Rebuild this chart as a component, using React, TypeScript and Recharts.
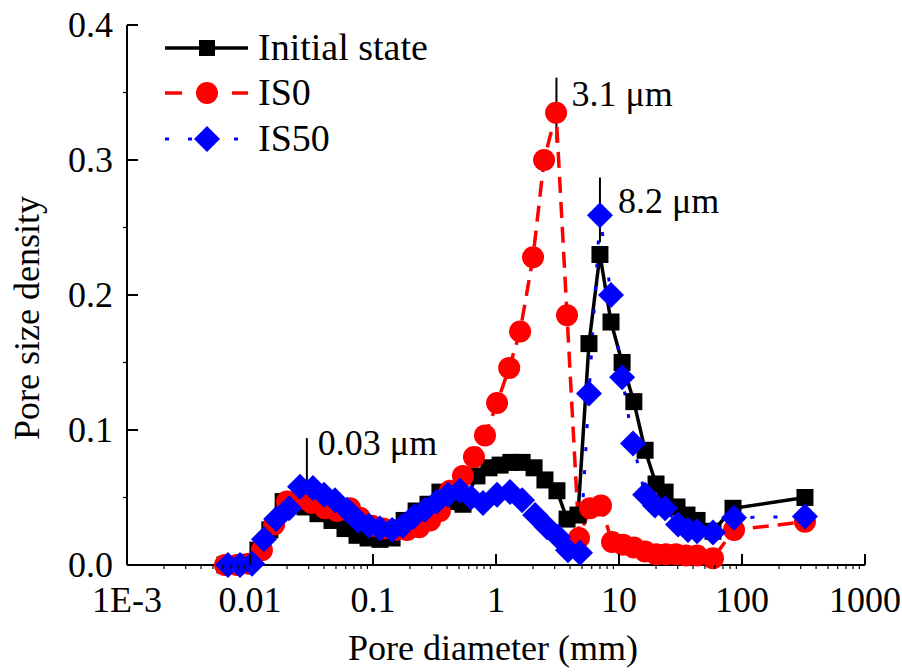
import { LineChart, Line, XAxis, YAxis, ReferenceLine } from 'recharts';

// pore diameter (x) and pore size density (y)
const initialX = [0.00626, 0.00784, 0.00981, 0.0116, 0.0145, 0.0186, 0.0228, 0.028, 0.0357, 0.0464, 0.0592, 0.0741, 0.0911, 0.114, 0.143, 0.179, 0.224, 0.28, 0.35, 0.439, 0.539, 0.70, 0.877, 1.08, 1.32, 1.63, 2.04, 2.50, 3.13, 3.78, 4.64, 5.70, 7.0, 8.61, 10.6, 13.2, 16.3, 20.0, 23.7, 29.6, 35.7, 43.1, 58.1, 84.5, 325];
const initialY = [0.0, 0.0, 0.002, 0.011, 0.026, 0.047, 0.046, 0.043, 0.038, 0.033, 0.027, 0.022, 0.020, 0.019, 0.020, 0.033, 0.040, 0.045, 0.054, 0.047, 0.045, 0.066, 0.072, 0.074, 0.076, 0.076, 0.072, 0.063, 0.055, 0.034, 0.037, 0.164, 0.230, 0.180, 0.150, 0.121, 0.085, 0.060, 0.054, 0.043, 0.037, 0.033, 0.025, 0.042, 0.050];

const is0X = [0.00626, 0.00784, 0.00981, 0.0125, 0.0157, 0.0200, 0.0255, 0.0319, 0.0407, 0.051, 0.065, 0.0784, 0.0981, 0.121, 0.151, 0.189, 0.237, 0.291, 0.350, 0.423, 0.539, 0.662, 0.814, 1.02, 1.28, 1.57, 2.00, 2.46, 3.08, 3.78, 4.73, 5.81, 7.14, 8.77, 10.8, 13.2, 16.3, 20.0, 24.1, 29.1, 35.1, 43.1, 58.1, 86.1, 325];
const is0Y = [0.0, 0.0, 0.001, 0.011, 0.030, 0.047, 0.049, 0.046, 0.042, 0.040, 0.042, 0.035, 0.029, 0.027, 0.026, 0.026, 0.028, 0.033, 0.040, 0.055, 0.066, 0.080, 0.096, 0.120, 0.146, 0.173, 0.228, 0.300, 0.335, 0.185, 0.020, 0.042, 0.044, 0.017, 0.015, 0.013, 0.010, 0.008, 0.008, 0.008, 0.007, 0.007, 0.005, 0.026, 0.032];

const is50X = [0.00662, 0.00829, 0.0104, 0.0130, 0.0163, 0.0208, 0.0255, 0.0325, 0.0400, 0.0491, 0.0615, 0.0755, 0.0928, 0.114, 0.143, 0.175, 0.215, 0.265, 0.331, 0.407, 0.510, 0.626, 0.784, 1.02, 1.30, 1.63, 2.08, 2.60, 3.19, 3.85, 4.82, 5.70, 7.0, 8.61, 10.6, 13.0, 16.3, 19.6, 23.7, 30.2, 36.4, 43.1, 58.1, 86.1, 325];
const is50Y = [0.0, 0.0, 0.001, 0.019, 0.034, 0.042, 0.058, 0.057, 0.052, 0.048, 0.041, 0.033, 0.029, 0.027, 0.026, 0.029, 0.036, 0.041, 0.047, 0.052, 0.055, 0.050, 0.046, 0.052, 0.054, 0.048, 0.037, 0.028, 0.021, 0.011, 0.009, 0.127, 0.259, 0.200, 0.139, 0.090, 0.052, 0.044, 0.042, 0.030, 0.026, 0.025, 0.024, 0.035, 0.036];

const xMajor = [0.001, 0.01, 0.1, 1, 10, 100, 1000];
const xMajorLabels = ['1E-3', '0.01', '0.1', '1', '10', '100', '1000'];
const yMajor = [0, 0.1, 0.2, 0.3, 0.4];
const yMajorLabels = ['0.0', '0.1', '0.2', '0.3', '0.4'];
const yMinor = [0.05, 0.15, 0.25, 0.35];

const FONT = '"Liberation Serif", "Times New Roman", serif';

const toPoints = (xs: number[], ys: number[]) => xs.map((x, i) => ({ x, y: ys[i] }));

const xMinor: number[] = [];
xMajor.slice(0, -1).forEach((d) => {
  for (let k = 2; k <= 9; k++) xMinor.push(d * k);
});
const xTicks = [...xMajor, ...xMinor];
const yTicks = [...yMajor, ...yMinor];

function XTick(props: any) {
  const { x, y, payload } = props;
  const i = xMajor.indexOf(payload.value);
  if (i < 0) return <line x1={x} x2={x} y1={y} y2={y + 4} stroke="#000" strokeWidth={1.2} />;
  return (
    <g>
      <line x1={x} x2={x} y1={y} y2={y - 11} stroke="#000" strokeWidth={2} />
      <text x={x} y={y + 47} textAnchor="middle" fontSize={36} fontFamily={FONT} fill="#000">
        {xMajorLabels[i]}
      </text>
    </g>
  );
}

function YTick(props: any) {
  const { x, y, payload } = props;
  const i = yMajor.indexOf(payload.value);
  if (i < 0) return <line x1={x} x2={x - 4} y1={y} y2={y} stroke="#000" strokeWidth={1.2} />;
  return (
    <g>
      <line x1={x} x2={x + 11} y1={y} y2={y} stroke="#000" strokeWidth={2} />
      <text x={x - 14} y={y + 12} textAnchor="end" fontSize={36} fontFamily={FONT} fill="#000">
        {yMajorLabels[i]}
      </text>
    </g>
  );
}

const square = (p: any) => (
  <rect key={`s-${p.index}`} x={p.cx - 8.5} y={p.cy - 8.5} width={17} height={17} fill="#000" />
);
const circle = (p: any) => <circle key={`c-${p.index}`} cx={p.cx} cy={p.cy} r={11} fill="#ff0000" />;
const diamond = (p: any) => (
  <polygon
    key={`d-${p.index}`}
    points={`${p.cx},${p.cy - 13} ${p.cx + 13},${p.cy} ${p.cx},${p.cy + 13} ${p.cx - 13},${p.cy}`}
    fill="#0000ff"
  />
);

const note = (text: string, dx: number, dy: number) => (p: any) => (
  <text x={p.viewBox.x + dx} y={p.viewBox.y + dy} fontSize={36} fontFamily={FONT} fill="#000">
    {text}
  </text>
);

function Legend() {
  const t = { fontSize: 38, fontFamily: FONT, fill: '#000' };
  return (
    <svg width={902} height={200} style={{ position: 'absolute', left: 0, top: 0, pointerEvents: 'none' }}>
      <line x1={165} x2={248} y1={48} y2={48} stroke="#000" strokeWidth={3.5} />
      <rect x={199} y={40} width={16} height={16} fill="#000" />
      <text x={258} y={60} {...t}>Initial state</text>
      <line x1={165} x2={182} y1={93} y2={93} stroke="#ff0000" strokeWidth={3.5} />
      <line x1={232} x2={248} y1={93} y2={93} stroke="#ff0000" strokeWidth={3.5} />
      <circle cx={207} cy={93} r={11} fill="#ff0000" />
      <text x={258} y={105} {...t}>IS0</text>
      <line x1={165} x2={248} y1={139} y2={139} stroke="#0000ff" strokeWidth={3} strokeDasharray="4 19" />
      <polygon points="207,126 220,139 207,152 194,139" fill="#0000ff" />
      <text x={258} y={151} {...t}>IS50</text>
    </svg>
  );
}

export default function App() {
  return (
    <div style={{ position: 'absolute', left: 0, top: 0, width: 902, height: 672, background: '#fff' }}>
      <LineChart width={902} height={672} margin={{ top: 25, right: 37, left: 67, bottom: 47 }}>
        <XAxis
          dataKey="x"
          type="number"
          scale="log"
          domain={[0.001, 1000]}
          allowDataOverflow
          ticks={xTicks}
          interval={0}
          tick={XTick}
          tickLine={false}
          tickSize={0}
          tickMargin={0}
          height={60}
          axisLine={{ stroke: '#000', strokeWidth: 2 }}
          label={(p: any) => (
            <text x={p.viewBox.x + p.viewBox.width / 2 - 3} y={p.viewBox.y + 95} textAnchor="middle" fontSize={36} fontFamily={FONT} fill="#000">
              Pore diameter (mm)
            </text>
          )}
        />
        <YAxis
          type="number"
          domain={[0, 0.4]}
          ticks={yTicks}
          interval={0}
          tick={YTick}
          tickLine={false}
          tickSize={0}
          tickMargin={0}
          width={60}
          axisLine={{ stroke: '#000', strokeWidth: 2 }}
          label={(p: any) => {
            const lx = p.viewBox.x + p.viewBox.width - 88;
            const ly = p.viewBox.y + 293;
            return (
              <text x={lx} y={ly} transform={`rotate(-90, ${lx}, ${ly})`} textAnchor="middle" fontSize={36} fontFamily={FONT} fill="#000">
                Pore size density
              </text>
            );
          }}
        />
        <ReferenceLine segment={[{ x: 0.029, y: 0.044 }, { x: 0.029, y: 0.094 }]} stroke="#000" strokeWidth={2} label={note('0.03 \u03bcm', 11, 17)} />
        <ReferenceLine segment={[{ x: 3.1, y: 0.313 }, { x: 3.1, y: 0.361 }]} stroke="#000" strokeWidth={2} label={note('3.1 \u03bcm', 15, 28)} />
        <ReferenceLine segment={[{ x: 7.0, y: 0.239 }, { x: 7.0, y: 0.287 }]} stroke="#000" strokeWidth={2} label={note('8.2 \u03bcm', 18, 35)} />
        <Line data={toPoints(initialX, initialY)} dataKey="y" type="linear" stroke="#000" strokeWidth={3.5} dot={square} activeDot={false} isAnimationActive={false} />
        <Line data={toPoints(is0X, is0Y)} dataKey="y" type="linear" stroke="#ff0000" strokeWidth={3.5} strokeDasharray="16 9" dot={circle} activeDot={false} isAnimationActive={false} />
        <Line data={toPoints(is50X, is50Y)} dataKey="y" type="linear" stroke="#0000ff" strokeWidth={3} strokeDasharray="4 19" dot={diamond} activeDot={false} isAnimationActive={false} />
      </LineChart>
      <Legend />
    </div>
  );
}
